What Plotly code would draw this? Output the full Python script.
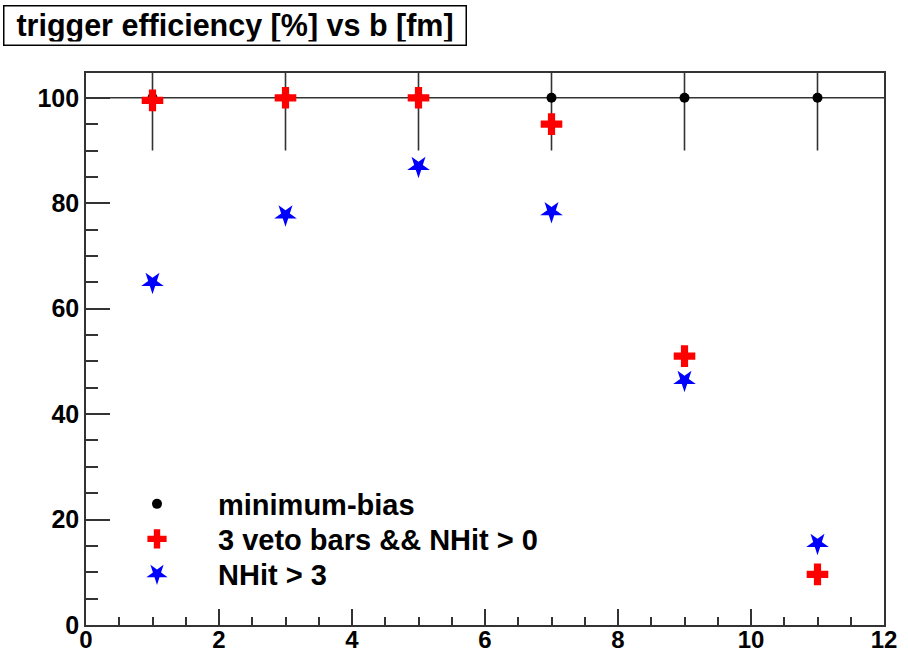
import plotly.graph_objects as go

b_fm = [1, 3, 5, 7, 9, 11]
b_err = [1, 1, 1, 1, 1, 1]
minbias = [100, 100, 100, 100, 100, 100]
minbias_err = [10, 10, 10, 10, 10, 10]
veto_nhit0 = [99.5, 100.0, 100.0, 95.0, 51.0, 9.6]
nhit3 = [65.0, 77.8, 87.0, 78.4, 46.4, 15.5]

FONT = "Liberation Sans"
LEG_FONT = dict(family=FONT, size=29, color="black", weight="bold")

fig = go.Figure()
fig.add_trace(go.Scatter(
    x=b_fm, y=minbias, mode="markers", name="minimum-bias", legend="legend",
    marker=dict(symbol="circle", size=10, color="black"),
    error_x=dict(type="data", array=b_err, color="#333333", thickness=1.6, width=0),
    error_y=dict(type="data", array=minbias_err, color="#333333", thickness=1.6, width=0),
))
fig.add_trace(go.Scatter(
    x=b_fm, y=veto_nhit0, mode="markers", name="3 veto bars && NHit > 0", legend="legend2",
    marker=dict(symbol="cross", size=18, color="red", line=dict(width=0)),
))
fig.add_trace(go.Scatter(
    x=b_fm, y=nhit3, mode="markers", name="NHit > 3", legend="legend3",
    marker=dict(symbol="star", size=17, color="blue", angle=180, line=dict(width=0)),
))

axis_common = dict(
    showgrid=False, zeroline=False, showline=True, linecolor="#333333", linewidth=1.6,
    mirror=True, ticks="inside", tickcolor="#333333", tickwidth=1.6, automargin=False,
)
fig.update_xaxes(range=[0, 12], dtick=2, tick0=0, ticklen=16, ticklabelstandoff=-8,
                 tickfont=dict(family=FONT, size=24, color="black", weight="bold"),
                 minor=dict(dtick=0.5, ticklen=8, ticks="inside", tickcolor="#333333", tickwidth=1.6),
                 **axis_common)
fig.update_yaxes(range=[0, 104.7], dtick=20, tick0=0, ticklen=24,
                 tickfont=dict(family=FONT, size=25, color="black", weight="bold"),
                 minor=dict(dtick=5, ticklen=12, ticks="inside", tickcolor="#333333", tickwidth=1.6),
                 **axis_common)

def leg(row_y):
    return dict(
        x=(96 - 86) / 798, y=(625 - row_y) / 552, xanchor="left", yanchor="middle",
        bgcolor="rgba(0,0,0,0)", borderwidth=0, font=LEG_FONT, itemwidth=112,
    )

fig.update_layout(
    width=908, height=654,
    margin=dict(l=86, r=24, t=73, b=29),
    paper_bgcolor="white", plot_bgcolor="white",
    font=dict(family=FONT, color="black"),
    showlegend=True,
    legend=leg(504),
    legend2=leg(539),
    legend3=leg(574),
    annotations=[dict(
        text="trigger efficiency [%] vs b [fm]",
        xref="paper", yref="paper", x=(3 - 86) / 798, y=(625 - 5) / 552,
        xanchor="left", yanchor="top", showarrow=False,
        font=dict(family=FONT, size=30.5, color="black", weight="bold"),
        bordercolor="black", borderwidth=1.5, borderpad=3, bgcolor="white",
        width=455, height=32, align="center",
    )],
)

fig.write_html("out.html")
